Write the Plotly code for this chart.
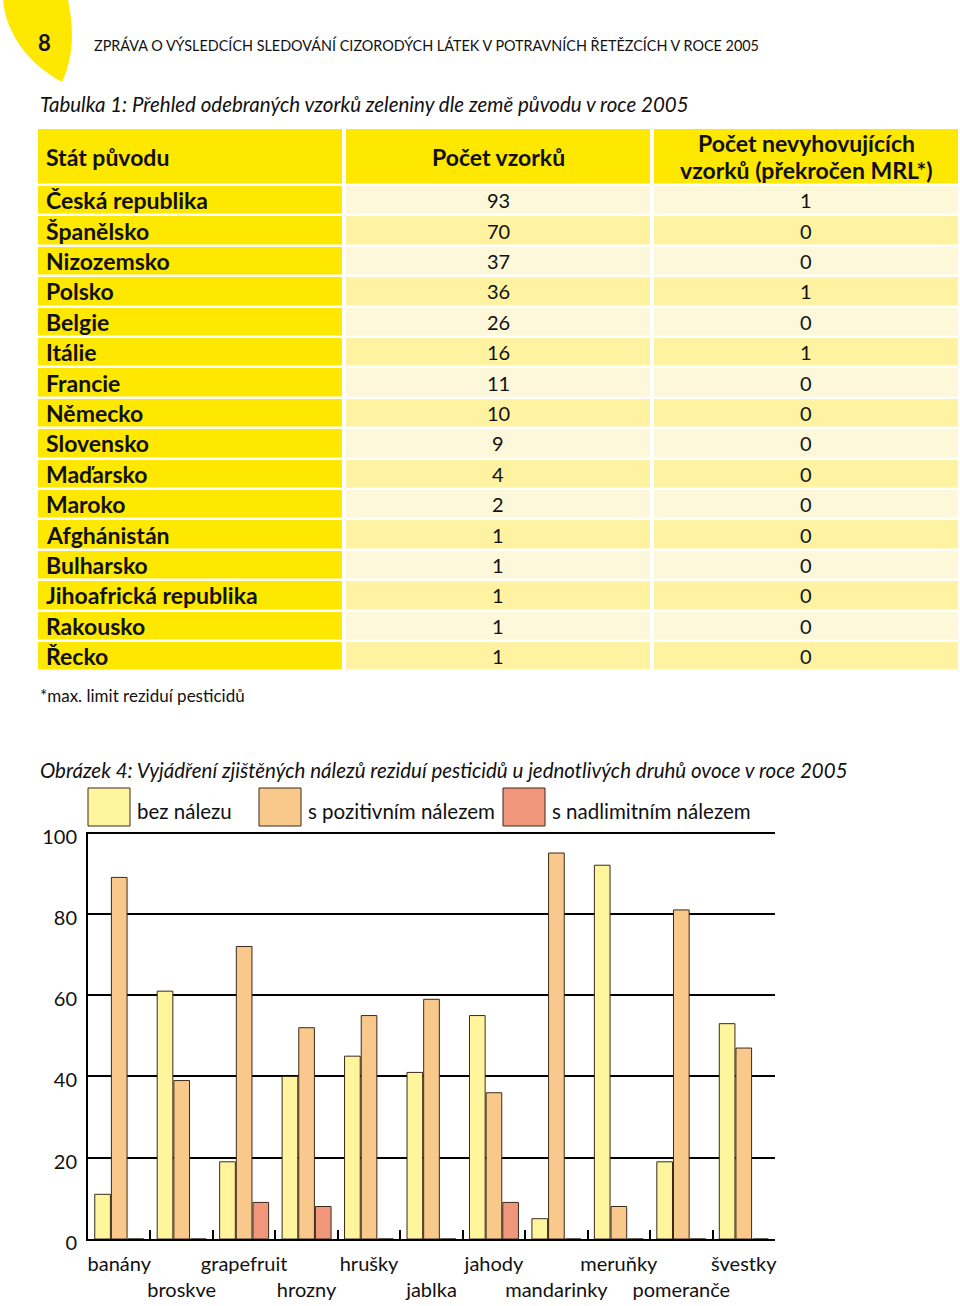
import plotly.graph_objects as go

W, H = 960, 1306

# ---------------- data ----------------
countries = ["Česká republika", "Španělsko", "Nizozemsko", "Polsko", "Belgie", "Itálie",
             "Francie", "Německo", "Slovensko", "Maďarsko", "Maroko", "Afghánistán",
             "Bulharsko", "Jihoafrická republika", "Rakousko", "Řecko"]
samples = [93, 70, 37, 36, 26, 16, 11, 10, 9, 4, 2, 1, 1, 1, 1, 1]
noncompliant = [1, 0, 0, 1, 0, 1, 0, 0, 0, 0, 0, 0, 0, 0, 0, 0]
table_headers = ["Stát původu", "Počet vzorků", "Počet nevyhovujících<br>vzorků (překročen MRL*)"]

fruits = ["banány", "broskve", "grapefruit", "hrozny", "hrušky", "jablka", "jahody",
          "mandarinky", "meruňky", "pomeranče", "švestky"]
bez_nalezu = [11, 61, 19, 40, 45, 41, 55, 5, 92, 19, 53]
pozitivni = [89, 39, 72, 52, 55, 59, 36, 95, 8, 81, 47]
nadlimitni = [0, 0, 9, 8, 0, 0, 9, 0, 0, 0, 0]
series_names = ["bez nálezu", "s pozitivním nálezem", "s nadlimitním nálezem"]
y_ticks = [0, 20, 40, 60, 80, 100]

# ---------------- style ----------------
FONT = "Lato"
YEL = "#FFE800"
CREAM = "#FEF8DA"
PALE = "#FFF2A0"
BAR_COLORS = ["#FFF59D", "#F9C98C", "#F0967A"]
EDGE = "#3A2A1A"
INK = "#111111"

HEADER_H = 57.0   # header row height (px)
ROW_H = 30.4      # body row height (px)
TABLE_TOP = 128


def px(x):
    return x / W


def py(y):
    return 1 - y / H


fig = go.Figure()

# ---------------- table drawn as a heatmap grid ----------------
n = len(countries)
y_edges = [0.0, HEADER_H] + [HEADER_H + ROW_H * (i + 1) for i in range(n)]
z = [[0, 0, 0]] + [[0, 1 if i % 2 == 0 else 2, 1 if i % 2 == 0 else 2] for i in range(n)]
table_bottom = TABLE_TOP + y_edges[-1]

fig.add_trace(go.Heatmap(
    x=[0, 1, 2, 3], y=y_edges, z=z, xaxis="x2", yaxis="y2",
    colorscale=[[0, YEL], [0.5, CREAM], [1, PALE]], zmin=0, zmax=2,
    showscale=False, xgap=4, ygap=2.5, hoverinfo="skip",
))

row_centers = [HEADER_H + ROW_H * (i + 0.5) for i in range(n)]
# column 1 (country names, left aligned, bold)
for name, yc in zip(countries, row_centers):
    fig.add_annotation(xref="x2", yref="y2", x=0, y=yc, xshift=8, text=f"<b>{name}</b>",
                       showarrow=False, xanchor="left", yanchor="middle",
                       font=dict(family=FONT, size=23, color=INK))
# columns 2 and 3 (numbers, centered)
for col_x, vals in [(1.5, samples), (2.5, noncompliant)]:
    for v, yc in zip(vals, row_centers):
        fig.add_annotation(xref="x2", yref="y2", x=col_x, y=yc, text=str(v),
                           showarrow=False, xanchor="center", yanchor="middle",
                           font=dict(family=FONT, size=20, color=INK))
# header texts
for j, h in enumerate(table_headers):
    lines = h.split("<br>")
    k = len(lines)
    for li, line in enumerate(lines):
        yshift = -(li - (k - 1) / 2) * 27
        if j == 0:
            fig.add_annotation(xref="x2", yref="y2", x=0, y=HEADER_H / 2, xshift=8, yshift=yshift,
                               text=f"<b>{line}</b>", showarrow=False, xanchor="left", yanchor="middle",
                               font=dict(family=FONT, size=23, color=INK))
        else:
            fig.add_annotation(xref="x2", yref="y2", x=j + 0.5, y=HEADER_H / 2, yshift=yshift,
                               text=f"<b>{line}</b>", showarrow=False, xanchor="center", yanchor="middle",
                               font=dict(family=FONT, size=23, color=INK))

# ---------------- bar chart ----------------
for name, vals, col in zip(series_names, [bez_nalezu, pozitivni, nadlimitni], BAR_COLORS):
    fig.add_trace(go.Bar(
        x=fruits, y=vals, name=name, marker=dict(color=col, line=dict(color=EDGE, width=1)),
        showlegend=False, hoverinfo="x+y+name",
    ))

ticktext = [f if i % 2 == 0 else "<br>" + f for i, f in enumerate(fruits)]

fig.update_layout(
    width=W, height=H,
    margin=dict(l=0, r=0, t=0, b=0, autoexpand=False),
    paper_bgcolor="white", plot_bgcolor="white",
    barmode="group", bargap=0.2, bargroupgap=0.06,
    font=dict(family=FONT, color=INK),
    showlegend=False,
    xaxis=dict(
        domain=[px(88), px(775)], type="category", automargin=False,
        tickmode="array", tickvals=fruits, ticktext=ticktext, tickangle=0,
        ticks="inside", tickson="boundaries", ticklen=9, tickwidth=2, tickcolor="black",
        showline=True, linecolor="black", linewidth=2, showgrid=False,
        tickfont=dict(family=FONT, size=20, color=INK), ticklabelstandoff=6,
    ),
    yaxis=dict(
        domain=[py(1239), py(831.5)], range=[0, 100.3], automargin=False,
        tickmode="array", tickvals=y_ticks,
        showgrid=True, gridcolor="black", gridwidth=2, zeroline=False,
        showline=True, linecolor="black", linewidth=2, ticks="",
        tickfont=dict(family=FONT, size=20, color=INK), ticklabelstandoff=5, ticklabelshift=4,
    ),
    xaxis2=dict(
        domain=[px(36), px(960)], range=[0, 3], anchor="y2", automargin=False,
        showgrid=False, zeroline=False, showline=False, showticklabels=False, ticks="",
    ),
    yaxis2=dict(
        domain=[py(table_bottom), py(TABLE_TOP)], range=[y_edges[-1], 0], anchor="x2",
        automargin=False, showgrid=False, zeroline=False, showline=False,
        showticklabels=False, ticks="",
    ),
)

# ---------------- legend (manual, large swatches) ----------------
leg_box_x = [88, 259, 503]
for x0, name, col in zip(leg_box_x, series_names, BAR_COLORS):
    fig.add_shape(type="rect", xref="paper", yref="paper",
                  x0=px(x0), x1=px(x0 + 42), y0=py(826), y1=py(788),
                  fillcolor=col, line=dict(color=EDGE, width=1))
    fig.add_annotation(xref="paper", yref="paper", x=px(x0 + 47), y=py(811),
                       text=name, showarrow=False, xanchor="left", yanchor="middle",
                       font=dict(family=FONT, size=20.5, color=INK))

# ---------------- page decoration & titles ----------------
path = f"M {px(3)},{py(0)} L {px(68)},{py(0)} " \
       f"C {px(74)},{py(30)} {px(74)},{py(55)} {px(62)},{py(82)} " \
       f"C {px(30)},{py(65)} {px(6)},{py(35)} {px(3)},{py(0)} Z"
fig.add_shape(type="path", xref="paper", yref="paper", path=path,
              fillcolor=YEL, line=dict(width=0), layer="below")

fig.add_annotation(xref="paper", yref="paper", x=px(44), y=py(42), text="<b>8</b>",
                   showarrow=False, xanchor="center", yanchor="middle",
                   font=dict(family=FONT, size=22, color=INK))
fig.add_annotation(xref="paper", yref="paper", x=px(92), y=py(45),
                   text="ZPRÁVA O VÝSLEDCÍCH SLEDOVÁNÍ CIZORODÝCH LÁTEK V POTRAVNÍCH ŘETĚZCÍCH V ROCE 2005",
                   showarrow=False, xanchor="left", yanchor="middle",
                   font=dict(family=FONT, size=14.4, color=INK))
fig.add_annotation(xref="paper", yref="paper", x=px(38), y=py(104),
                   text="<i>Tabulka 1: Přehled odebraných vzorků zeleniny dle země původu v roce 2005</i>",
                   showarrow=False, xanchor="left", yanchor="middle",
                   font=dict(family=FONT, size=20.5, color=INK))
fig.add_annotation(xref="paper", yref="paper", x=px(38), y=py(695),
                   text="*max. limit reziduí pesticidů",
                   showarrow=False, xanchor="left", yanchor="middle",
                   font=dict(family=FONT, size=17, color=INK))
fig.add_annotation(xref="paper", yref="paper", x=px(38), y=py(770),
                   text="<i>Obrázek 4: Vyjádření zjištěných nálezů reziduí pesticidů u jednotlivých druhů ovoce v roce 2005</i>",
                   showarrow=False, xanchor="left", yanchor="middle",
                   font=dict(family=FONT, size=20.5, color=INK))

fig.write_html("out.html")
